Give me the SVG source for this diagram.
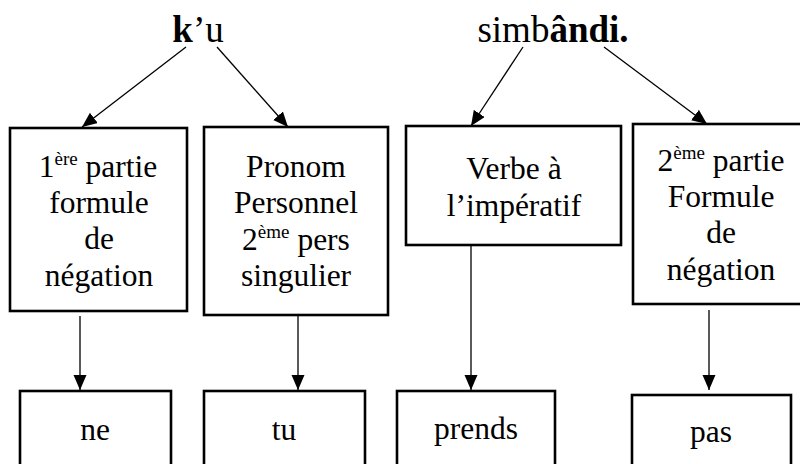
<svg xmlns="http://www.w3.org/2000/svg" width="800" height="464" viewBox="0 0 800 464">
<defs>
<marker id="ah" markerUnits="userSpaceOnUse" markerWidth="16" markerHeight="14" refX="15" refY="6.5" orient="auto">
<path d="M0,0 L15,6.5 L0,13 z" fill="#000"/>
</marker>
<style>
.box{fill:#fff;stroke:#000;stroke-width:2.6}
.t{font-family:'Liberation Serif','Times New Roman',serif;font-size:31.5px;fill:#000;text-anchor:middle}
.h{font-family:'Liberation Serif','Times New Roman',serif;font-size:37px;fill:#000;text-anchor:middle}
.sup{font-size:19px}
.b{font-weight:bold}
.c{stroke:#000;stroke-width:1.3;fill:none;marker-end:url(#ah)}
</style>
</defs>
<rect width="800" height="464" fill="#fff"/>
<g id="word-ku"><text class="h" x="198" y="42"><tspan class="b">k</tspan>&#8217;u</text></g>
<g id="word-simbandi"><text class="h" x="553" y="42">simb<tspan class="b">&#226;ndi.</tspan></text></g>
<g id="connectors">
<line class="c" x1="186" y1="47" x2="82" y2="127"/>
<line class="c" x1="217" y1="47" x2="288" y2="127"/>
<line class="c" x1="523" y1="47" x2="471" y2="126"/>
<line class="c" x1="604" y1="47" x2="707" y2="124"/>
<line class="c" x1="80" y1="316" x2="80" y2="390"/>
<line class="c" x1="298" y1="316" x2="298" y2="390"/>
<line class="c" x1="471" y1="246" x2="471" y2="390"/>
<line class="c" x1="709" y1="310" x2="709" y2="390"/>
</g>
<g id="n1">
<rect class="box" x="10" y="128" width="177" height="183"/>
<text class="t" x="98" y="177">1<tspan class="sup" dy="-12">&#232;re</tspan><tspan dy="12"> partie</tspan></text>
<text class="t" x="99" y="213">formule</text>
<text class="t" x="99" y="249">de</text>
<text class="t" x="99" y="286">n&#233;gation</text>
</g>
<g id="n2">
<rect class="box" x="204" y="127" width="184" height="188"/>
<text class="t" x="296" y="177">Pronom</text>
<text class="t" x="296" y="213">Personnel</text>
<text class="t" x="296" y="250">2<tspan class="sup" dy="-12">&#232;me</tspan><tspan dy="12"> pers</tspan></text>
<text class="t" x="296" y="286">singulier</text>
</g>
<g id="n3">
<rect class="box" x="406" y="126" width="215" height="119"/>
<text class="t" x="514" y="179">Verbe &#224;</text>
<text class="t" x="514" y="216">l&#8217;imp&#233;ratif</text>
</g>
<g id="n4">
<rect class="box" x="633" y="124" width="178" height="180"/>
<text class="t" x="721" y="171">2<tspan class="sup" dy="-12">&#232;me</tspan><tspan dy="12"> partie</tspan></text>
<text class="t" x="721" y="207">Formule</text>
<text class="t" x="721" y="243">de</text>
<text class="t" x="721" y="280">n&#233;gation</text>
</g>
<g id="n5">
<rect class="box" x="20" y="391" width="151" height="80"/>
<text class="t" x="95" y="440">ne</text>
</g>
<g id="n6">
<rect class="box" x="204" y="391" width="161" height="80"/>
<text class="t" x="284" y="440">tu</text>
</g>
<g id="n7">
<rect class="box" x="397" y="391" width="158" height="80"/>
<text class="t" x="476" y="439">prends</text>
</g>
<g id="n8">
<rect class="box" x="632" y="395" width="159" height="80"/>
<text class="t" x="711" y="442">pas</text>
</g>
</svg>
